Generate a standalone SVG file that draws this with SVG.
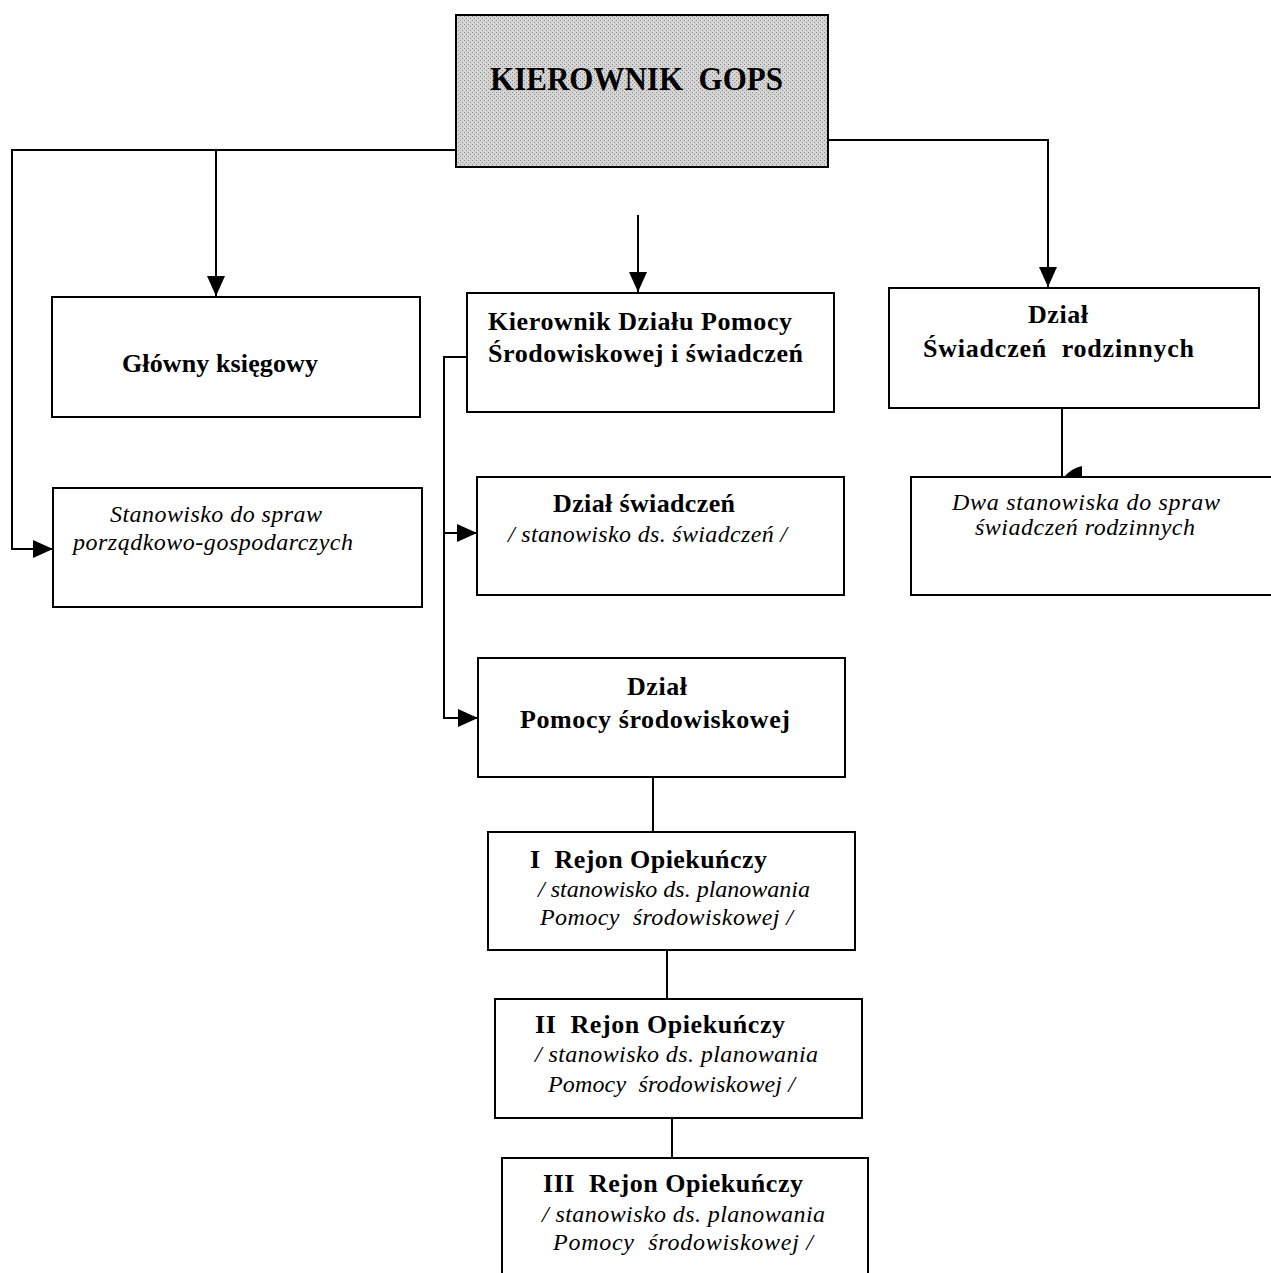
<svg xmlns="http://www.w3.org/2000/svg" width="1271" height="1273" viewBox="0 0 1271 1273">
<style>
.box{fill:#fff;stroke:#000;stroke-width:2}
.top{stroke:#000;stroke-width:2}
.ln{fill:none;stroke:#000;stroke-width:2}
text{white-space:pre}
.b{font-family:"Liberation Serif","Times New Roman",serif;font-weight:bold;font-size:26px;fill:#000}
.i{font-family:"Liberation Serif","Times New Roman",serif;font-style:italic;font-size:24px;fill:#000}
.h{font-family:"Liberation Serif","Times New Roman",serif;font-weight:bold;font-size:34px;fill:#000}
</style>
<defs>
<pattern id="dith" width="4" height="4" patternUnits="userSpaceOnUse">
<rect width="4" height="4" fill="#d4d4d4"/>
<rect x="0" y="0" width="1" height="1" fill="#8a8a8a"/>
<rect x="2" y="2" width="1" height="1" fill="#8a8a8a"/>
</pattern>
<marker id="arr" viewBox="0 0 20 18" refX="20" refY="9" markerWidth="20" markerHeight="18" markerUnits="userSpaceOnUse" orient="auto">
<path d="M0,0 L20,9 L0,18 Z" fill="#000"/>
</marker>
</defs>
<rect width="1271" height="1273" fill="#fff"/>

<g id="connectors">
<path class="ln" d="M456,150 H12 V549 H53" marker-end="url(#arr)"/>
<path class="ln" d="M216,150 V296" marker-end="url(#arr)"/>
<path class="ln" d="M638,215 V292" marker-end="url(#arr)"/>
<path class="ln" d="M828,140 H1048 V287" marker-end="url(#arr)"/>
<path class="ln" d="M467,357 H444 V718 H478" marker-end="url(#arr)"/>
<path class="ln" d="M444,533 H477" marker-end="url(#arr)"/>
<path class="ln" d="M1062,408 V477"/>
<path d="M1064,477 L1082,477 L1082,466 Q1072,468 1064,477 Z" fill="#000"/>
<path class="ln" d="M653,777 V832"/>
<path class="ln" d="M667,950 V999"/>
<path class="ln" d="M672,1118 V1158"/>
</g>

<g id="kierownik-gops">
<rect class="top" x="456" y="15" width="372" height="152" fill="url(#dith)"/>
<text class="h" x="490" y="90" textLength="293" lengthAdjust="spacingAndGlyphs">KIEROWNIK  GOPS</text>
</g>

<g id="glowny-ksiegowy">
<rect class="box" x="52" y="297" width="368" height="120"/>
<text class="b" x="122" y="372" textLength="196" lengthAdjust="spacing">Główny księgowy</text>
</g>

<g id="kierownik-dzialu">
<rect class="box" x="467" y="293" width="367" height="119"/>
<text class="b" x="488" y="330" textLength="304" lengthAdjust="spacing">Kierownik Działu Pomocy</text>
<text class="b" x="488" y="362" textLength="315" lengthAdjust="spacing">Środowiskowej i świadczeń</text>
</g>

<g id="dzial-swiadczen-rodzinnych">
<rect class="box" x="889" y="288" width="370" height="120"/>
<text class="b" x="1028" y="323" textLength="60" lengthAdjust="spacing">Dział</text>
<text class="b" x="923" y="357" textLength="271" lengthAdjust="spacing">Świadczeń  rodzinnych</text>
</g>

<g id="stanowisko-porzadkowe">
<rect class="box" x="53" y="488" width="369" height="119"/>
<text class="i" x="110" y="522" textLength="212" lengthAdjust="spacing">Stanowisko do spraw</text>
<text class="i" x="73" y="550" textLength="280" lengthAdjust="spacing">porządkowo-gospodarczych</text>
</g>

<g id="dzial-swiadczen">
<rect class="box" x="477" y="477" width="367" height="118"/>
<text class="b" x="553" y="512" textLength="182" lengthAdjust="spacing">Dział świadczeń</text>
<text class="i" x="508" y="542" textLength="279" lengthAdjust="spacing">/ stanowisko ds. świadczeń /</text>
</g>

<g id="dwa-stanowiska">
<rect class="box" x="911" y="477" width="380" height="118"/>
<text class="i" x="952" y="510" textLength="268" lengthAdjust="spacing">Dwa stanowiska do spraw</text>
<text class="i" x="975" y="535" textLength="220" lengthAdjust="spacing">świadczeń rodzinnych</text>
</g>

<g id="dzial-pomocy">
<rect class="box" x="478" y="658" width="367" height="119"/>
<text class="b" x="627" y="695" textLength="60" lengthAdjust="spacing">Dział</text>
<text class="b" x="520" y="728" textLength="270" lengthAdjust="spacing">Pomocy środowiskowej</text>
</g>

<g id="rejon-1">
<rect class="box" x="488" y="832" width="367" height="118"/>
<text class="b" x="530" y="868" textLength="237" lengthAdjust="spacing">I  Rejon Opiekuńczy</text>
<text class="i" x="538" y="897" textLength="272" lengthAdjust="spacing">/ stanowisko ds. planowania</text>
<text class="i" x="540" y="925" textLength="253" lengthAdjust="spacing">Pomocy  środowiskowej /</text>
</g>

<g id="rejon-2">
<rect class="box" x="495" y="999" width="367" height="119"/>
<text class="b" x="535" y="1033" textLength="250" lengthAdjust="spacing">II  Rejon Opiekuńczy</text>
<text class="i" x="535" y="1062" textLength="283" lengthAdjust="spacing">/ stanowisko ds. planowania</text>
<text class="i" x="548" y="1092" textLength="247" lengthAdjust="spacing">Pomocy  środowiskowej /</text>
</g>

<g id="rejon-3">
<rect class="box" x="502" y="1158" width="366" height="130"/>
<text class="b" x="543" y="1192" textLength="260" lengthAdjust="spacing">III  Rejon Opiekuńczy</text>
<text class="i" x="542" y="1222" textLength="283" lengthAdjust="spacing">/ stanowisko ds. planowania</text>
<text class="i" x="553" y="1250" textLength="260" lengthAdjust="spacing">Pomocy  środowiskowej /</text>
</g>
</svg>
